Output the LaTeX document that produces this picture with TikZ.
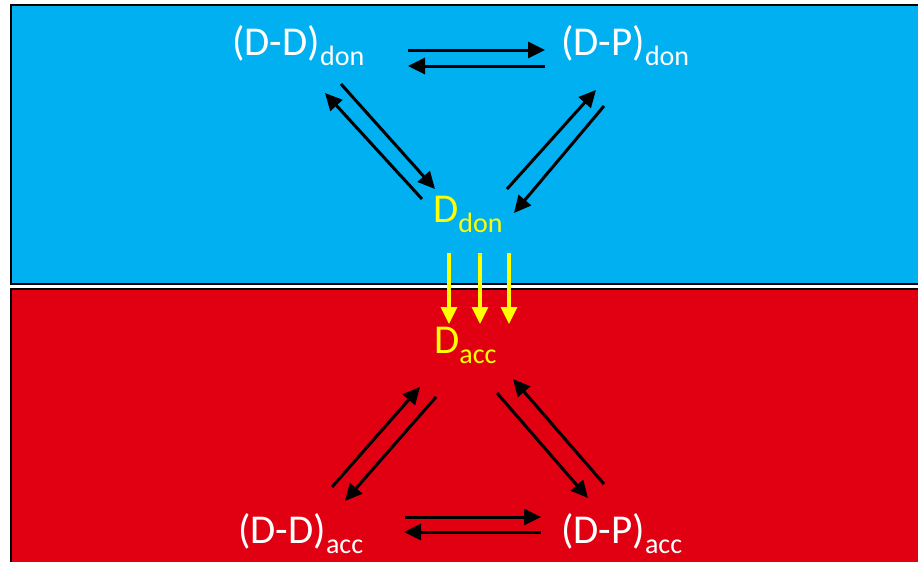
\documentclass[tikz,border=0pt]{standalone}
\usepackage{fontspec}
\setmainfont{Carlito}
\usetikzlibrary{arrows.meta}
\definecolor{topblue}{RGB}{0,176,240}
\definecolor{botred}{RGB}{224,0,18}
\definecolor{ylw}{RGB}{255,255,0}
\newcommand{\lbl}[2]{\fontsize{41}{41}\selectfont #1\raisebox{-10.5pt}{\fontsize{28}{28}\selectfont #2}}
\tikzset{
  species/.style={inner sep=0pt, anchor=base west, text=white},
  central/.style={inner sep=0pt, anchor=base west, text=ylw},
  rx/.style={line width=3pt, -{Triangle[length=17pt,width=16pt]}},
  transfer/.style={draw=ylw, line width=3.2pt, -{Triangle[length=17pt,width=16pt]}},
}
\begin{document}
\begin{tikzpicture}[x=1pt,y=-1pt]
\useasboundingbox (0,0) rectangle (918,562);
\fill[white] (0,0) rectangle (918,562);
\draw[fill=topblue, line width=2.2pt] (11,5) rectangle (930,284);
\draw[fill=botred, line width=2.2pt] (11,289) rectangle (930,580);

\node[species] (dddon) at (232,55) {\lbl{(D-D)}{don}};
\node[species] (dpdon) at (561,55) {\lbl{(D-P)}{don}};
\node[central] (ddon) at (433,222) {\lbl{D}{don}};
\node[central] (dacc) at (434,353) {\lbl{D}{acc}};
\node[species] (ddacc) at (238,543) {\lbl{(D-D)}{acc}};
\node[species] (dpacc) at (561,543) {\lbl{(D-P)}{acc}};

% top horizontal pair
\coordinate (th1s) at (408,50); \coordinate (th1e) at (545,50);
\coordinate (th2s) at (545,66); \coordinate (th2e) at (408,66);
\draw[rx] (th1s) -- (th1e);
\draw[rx] (th2s) -- (th2e);
% top-left diagonal pair
\coordinate (tl1s) at (341,84); \coordinate (tl1e) at (435,189);
\coordinate (tl2s) at (422,199); \coordinate (tl2e) at (325,93);
\draw[rx] (tl1s) -- (tl1e);
\draw[rx] (tl2s) -- (tl2e);
% top-right diagonal pair
\coordinate (tr1s) at (507,189); \coordinate (tr1e) at (596,90);
\coordinate (tr2s) at (604,106); \coordinate (tr2e) at (514,213);
\draw[rx] (tr1s) -- (tr1e);
\draw[rx] (tr2s) -- (tr2e);
% transfer arrows
\foreach \xx [count=\i] in {449,480,509}{
  \coordinate (ys\i) at (\xx,253); \coordinate (ye\i) at (\xx,324);
  \draw[transfer] (ys\i) -- (ye\i);
}
% bottom-left diagonal pair
\coordinate (bl1s) at (332,487); \coordinate (bl1e) at (420,387);
\coordinate (bl2s) at (436,397); \coordinate (bl2e) at (345,501);
\draw[rx] (bl1s) -- (bl1e);
\draw[rx] (bl2s) -- (bl2e);
% bottom-right diagonal pair
\coordinate (br1s) at (497,393); \coordinate (br1e) at (588,498);
\coordinate (br2s) at (604,484); \coordinate (br2e) at (513,379);
\draw[rx] (br1s) -- (br1e);
\draw[rx] (br2s) -- (br2e);
% bottom horizontal pair
\coordinate (bh1s) at (405,517); \coordinate (bh1e) at (541,517);
\coordinate (bh2s) at (541,532); \coordinate (bh2e) at (404,532);
\draw[rx] (bh1s) -- (bh1e);
\draw[rx] (bh2s) -- (bh2e);
\end{tikzpicture}
\end{document}
